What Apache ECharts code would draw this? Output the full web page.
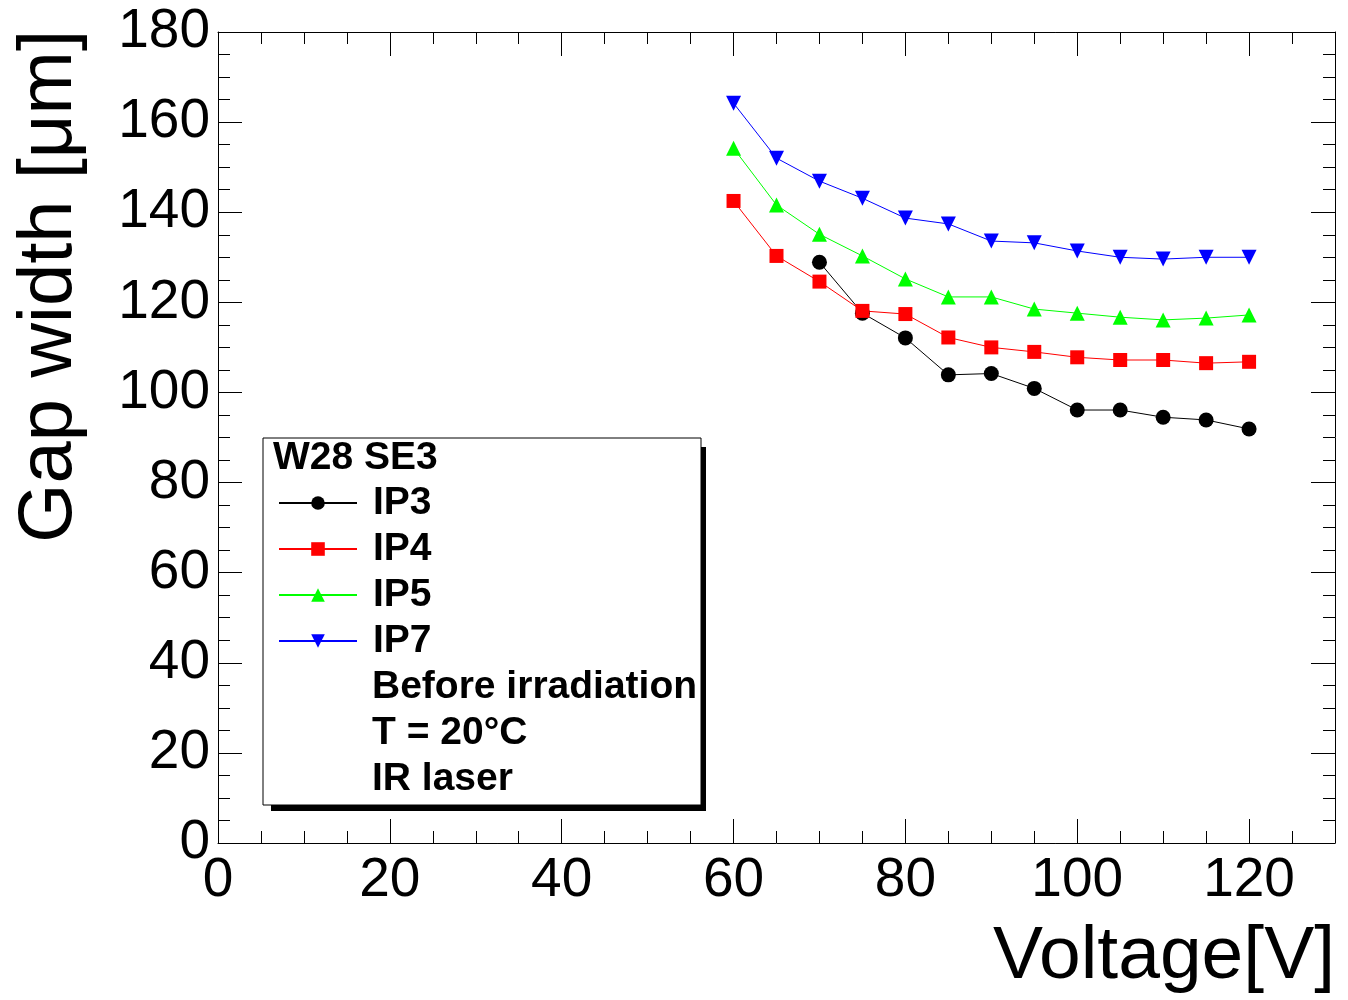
<!DOCTYPE html>
<html>
<head>
<meta charset="utf-8">
<script src="https://cdn.jsdelivr.net/npm/echarts@6/dist/echarts.min.js"></script>
<style>
html,body{margin:0;padding:0;background:#fff;}
#chart{width:1348px;height:1000px;}
</style>
</head>
<body>
<div id="chart"></div>
<script>
const voltages = [60, 65, 70, 75, 80, 85, 90, 95, 100, 105, 110, 115, 120];
const ip3 = [null, null, 128.9, 117.6, 112.1, 103.9, 104.2, 100.9, 96.1, 96.1, 94.5, 93.9, 91.9];
const ip4 = [142.5, 130.3, 124.6, 118.1, 117.4, 112.2, 110.0, 109.0, 107.8, 107.2, 107.2, 106.5, 106.8];
const ip5 = [154.2, 141.6, 135.1, 130.3, 125.2, 121.2, 121.2, 118.5, 117.6, 116.7, 116.1, 116.5, 117.2];
const ip7 = [164.2, 152.0, 146.9, 143.1, 138.7, 137.4, 133.6, 133.2, 131.4, 130.0, 129.6, 130.0, 130.0];
const seriesNames = ['IP3', 'IP4', 'IP5', 'IP7'];
const legendTitle = 'W28 SE3';
const legendNotes = ['Before irradiation', 'T = 20°C', 'IR laser'];
const xTitle = 'Voltage[V]';
const yTitle = 'Gap width [μm]';

const FONT = '"Liberation Sans", Arial, Helvetica, sans-serif';

function pairs(vals) {
  return voltages.map((v, i) => [v, vals[i]]);
}

const chart = echarts.init(document.getElementById('chart'), null, {renderer: 'canvas'});

function makeAxis(pos, isX, showLabel) {
  const a = {
    type: 'value',
    position: pos,
    min: 0,
    max: isX ? 130 : 180,
    interval: 20,
    splitLine: {show: false},
    axisLine: {show: true, onZero: false, lineStyle: {color: '#000', width: 1}},
    axisTick: {show: true, inside: true, length: 24, lineStyle: {color: '#000', width: 1}},
    minorTick: {show: true, splitNumber: 4, length: 12, lineStyle: {color: '#000', width: 1}},
    axisLabel: {show: showLabel, color: '#000', fontSize: 55, fontFamily: FONT, margin: isX ? 10 : 8,
      showMaxLabel: !isX, showMinLabel: true}
  };
  return a;
}

const xAxes = [makeAxis('bottom', true, true), makeAxis('top', true, false)];
const yAxes = [makeAxis('left', false, true), makeAxis('right', false, false)];

const colors = ['#000000', '#ff0000', '#00ff00', '#0000ff'];
const symbols = ['circle', 'rect', 'triangle', 'triangle'];
const sizes = [15, 14, 15, 15];
const rotates = [0, 0, 0, 180];
const datas = [ip3, ip4, ip5, ip7];

const series = seriesNames.map((name, i) => ({
  name: name,
  type: 'line',
  xAxisIndex: 0,
  yAxisIndex: 0,
  data: pairs(datas[i]),
  symbol: symbols[i],
  symbolSize: sizes[i],
  symbolRotate: rotates[i],
  showAllSymbol: true,
  connectNulls: false,
  lineStyle: {color: colors[i], width: 1},
  itemStyle: {color: colors[i]},
  animation: false,
  z: 3
}));

const boxX = 263, boxY = 438, boxW = 438, boxH = 367;
const BOLD = 'bold 39px ' + FONT;

const option = {
  animation: false,
  backgroundColor: '#fff',
  grid: {left: 218, right: 13, top: 32, bottom: 157, containLabel: false, outerBoundsMode: 'none'},
  xAxis: xAxes,
  yAxis: yAxes,
  legend: {
    show: true,
    orient: 'vertical',
    left: 278,
    top: 480,
    padding: 0,
    itemGap: 0,
    itemWidth: 78,
    itemHeight: 17,
    data: seriesNames,
    textStyle: {fontSize: 39, fontWeight: 'bold', fontFamily: FONT, color: '#000', lineHeight: 46, padding: [0, 0, 0, 11]},
    selectedMode: false,
    z: 20
  },
  graphic: [
    {type: 'rect', z: 10, shape: {x: boxX + 8, y: boxY + 9, width: boxW - 3, height: boxH - 3}, style: {fill: '#000'}},
    {type: 'rect', z: 11, shape: {x: boxX, y: boxY, width: boxW, height: boxH}, style: {fill: '#fff', stroke: '#000', lineWidth: 1}},
    {type: 'text', z: 21, x: 273, y: 458, style: {text: legendTitle, font: BOLD, fill: '#000', textAlign: 'left', textVerticalAlign: 'middle'}},
    {type: 'text', z: 21, x: 372, y: 687, style: {text: legendNotes[0], font: BOLD, fill: '#000', textAlign: 'left', textVerticalAlign: 'middle'}},
    {type: 'text', z: 21, x: 372, y: 733, style: {text: legendNotes[1], font: BOLD, fill: '#000', textAlign: 'left', textVerticalAlign: 'middle'}},
    {type: 'text', z: 21, x: 372, y: 779, style: {text: legendNotes[2], font: BOLD, fill: '#000', textAlign: 'left', textVerticalAlign: 'middle'}},
    {type: 'text', z: 21, x: 1335, y: 957, style: {text: xTitle, font: '75px ' + FONT, fill: '#000', textAlign: 'right', textVerticalAlign: 'middle'}},
    {type: 'text', z: 21, x: 50, y: 30, rotation: Math.PI / 2, style: {text: yTitle, font: '76px ' + FONT, fill: '#000', textAlign: 'right', textVerticalAlign: 'middle'}}
  ],
  series: series
};

chart.setOption(option);
</script>
</body>
</html>
